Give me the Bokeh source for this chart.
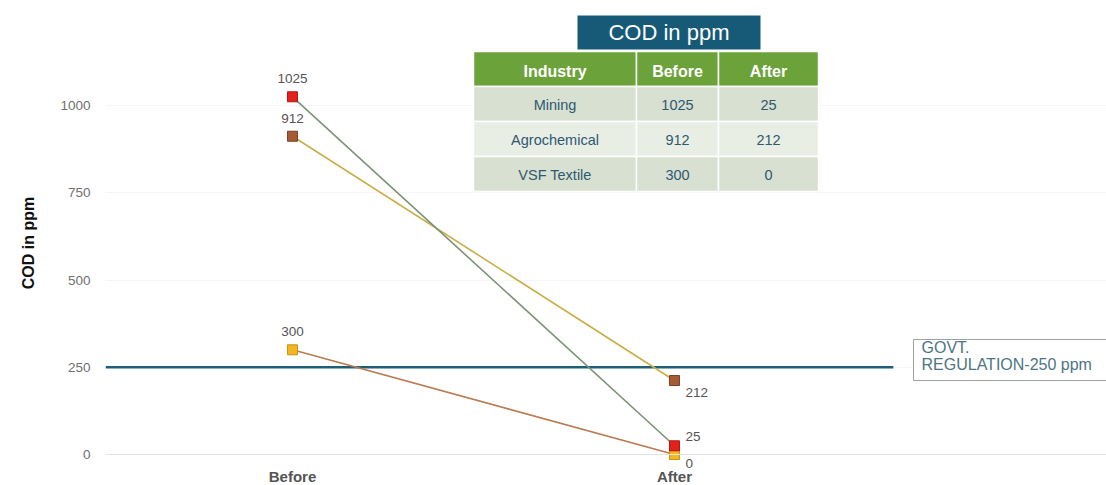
from bokeh.plotting import figure
from bokeh.models import Range1d, ColumnDataSource, FixedTicker, Span
from bokeh.core.properties import value
from bokeh.embed import file_html
from bokeh.resources import INLINE

# ---------------- data ----------------
industries = ["Mining", "Agrochemical", "VSF Textile"]
before = [1025, 912, 300]
after = [25, 212, 0]
stages = ["Before", "After"]
y_ticks = [0, 250, 500, 750, 1000]
regulation = 250
regulation_text = "GOVT.\nREGULATION-250 ppm"
table_title = "COD in ppm"
table_header = ["Industry", "Before", "After"]

# ---------------- style ----------------
marker_colors = ["#e3201b", "#a65a35", "#f2b71f"]
marker_borders = ["#b01512", "#7d4024", "#c8921a"]
line_colors = ["#7b9275", "#c9ad45", "#bb7a52"]
after_label_dy = [-9, 12, 9]     # screen offsets (down = +) of "after" value labels
FONT = "Liberation Sans"

LEFT = 105
FW, FH = 1001, 485               # frame size in px

p = figure(frame_width=FW, frame_height=FH, output_backend="svg", toolbar_location=None,
           x_range=Range1d(-0.4895, 2.131), y_range=Range1d(-88.8, 1300.9),
           min_border_left=LEFT, min_border_right=0, min_border_top=0,
           min_border_bottom=0, background_fill_color="white",
           border_fill_color="white", outline_line_color=None)

# pixel-like ranges for the table / annotation box (y downward)
p.extra_x_ranges = {"px": Range1d(0, FW)}
p.extra_y_ranges = {"py": Range1d(FH, 0)}

# axes
p.xaxis.visible = False
p.yaxis.ticker = FixedTicker(ticks=y_ticks)
p.yaxis.axis_line_color = None
p.yaxis.major_tick_line_color = None
p.yaxis.minor_tick_line_color = None
p.yaxis.major_tick_out = 0
p.yaxis.major_tick_in = 0
p.yaxis.minor_tick_out = 0
p.yaxis.major_label_standoff = 15
p.yaxis.major_label_text_font = FONT
p.yaxis.major_label_text_font_size = "13.5px"
p.yaxis.major_label_text_color = "#707070"
p.yaxis.axis_label = "COD in ppm"
p.yaxis.axis_label_text_font = FONT
p.yaxis.axis_label_text_font_style = "bold"
p.yaxis.axis_label_text_font_size = "16px"
p.yaxis.axis_label_text_color = "#111111"
p.yaxis.axis_label_standoff = 20

p.xgrid.grid_line_color = None
p.ygrid.grid_line_color = "#f5f5f5"
p.add_layout(Span(location=0, dimension="width", line_color="#e3e3e3", line_width=1))

# stage (category) labels under the baseline
p.text(x=list(range(len(stages))), y=[0] * len(stages), text=stages, y_offset=13,
       text_font=value(FONT), text_font_style="bold", text_font_size="15px",
       text_color="#555555", text_align="center", text_baseline="top")

# regulation line
p.segment(x0=[p.x_range.start], x1=[1.573], y0=[regulation], y1=[regulation],
          line_color="#1d5f78", line_width=2.5)

# industry lines & markers (VSF first so Mining's marker sits on top)
for i in reversed(range(len(industries))):
    p.line([0, 1], [before[i], after[i]], line_color=line_colors[i], line_width=1.6)
for i in reversed(range(len(industries))):
    p.scatter([0, 1], [before[i], after[i]], marker="square", size=10,
              fill_color=marker_colors[i], line_color=marker_borders[i], line_width=1)

lab_style = dict(text_font=value(FONT), text_font_size="13.5px", text_color="#555555",
                 text_baseline="middle")
p.text(x=[0] * len(before), y=before, text=[str(v) for v in before], y_offset=-18,
       text_align="center", **lab_style)
src_a = ColumnDataSource(dict(x=[1] * len(after), y=after, t=[str(v) for v in after],
                              dy=after_label_dy))
p.text(x="x", y="y", text="t", source=src_a, x_offset=11, y_offset="dy",
       text_align="left", **lab_style)

# regulation annotation box
p.quad(left=[808], right=[1010], top=[339], bottom=[380], fill_color="white",
       line_color="#a0a0a0", line_width=1, x_range_name="px", y_range_name="py")
p.text(x=[816], y=[338], text=[regulation_text], text_font=value(FONT),
       text_font_size="16px", text_color="#4b7682", text_baseline="top",
       text_line_height=1.05, x_range_name="px", y_range_name="py")

# ---------------- table ----------------
col_edges = [368, 531, 613, 713]
row_top, row_h = 51, 35
rows = [[industries[i], str(before[i]), str(after[i])] for i in range(len(industries))]
row_fills = ["#d7e0d1", "#e9eee5", "#d7e0d1"]

# title tab
p.quad(left=[472], right=[655], top=[15], bottom=[49], fill_color="#165a78",
       line_color=None, x_range_name="px", y_range_name="py")
p.text(x=[563.5], y=[32], text=[table_title], text_font=value(FONT),
       text_font_size="22px", text_color="white", text_align="center",
       text_baseline="middle", x_range_name="px", y_range_name="py")

L, R, T, B, F = [], [], [], [], []
tx, ty, tt, tc, tw, ts = [], [], [], [], [], []
all_rows = [table_header] + rows
for r, row in enumerate(all_rows):
    top = row_top + r * row_h
    for c, txt in enumerate(row):
        L.append(col_edges[c]); R.append(col_edges[c + 1])
        T.append(top); B.append(top + row_h)
        F.append("#6ba23a" if r == 0 else row_fills[r - 1])
        tx.append((col_edges[c] + col_edges[c + 1]) / 2)
        ty.append(top + row_h / 2 + (2 if r == 0 else 1))
        tt.append(txt)
        tc.append("white" if r == 0 else "#2f5872")
        tw.append("bold" if r == 0 else "normal")
        ts.append("16px" if r == 0 else "14.5px")
p.quad(left=L, right=R, top=T, bottom=B, fill_color=F, line_color="white",
       line_width=1.5, x_range_name="px", y_range_name="py")
tsrc = ColumnDataSource(dict(x=tx, y=ty, t=tt, c=tc, w=tw, s=ts))
p.text(x="x", y="y", text="t", text_color="c", text_font_style="w",
       text_font_size="s", text_font=value(FONT), text_align="center",
       text_baseline="middle", source=tsrc, x_range_name="px", y_range_name="py")

open("out.html", "w").write(file_html(p, INLINE))
